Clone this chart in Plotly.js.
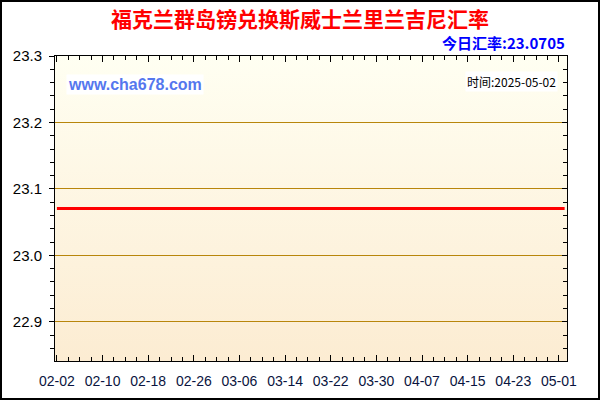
<!DOCTYPE html>
<html>
<head>
<meta charset="utf-8">
<script src="https://cdn.plot.ly/plotly-3.0.1.min.js"></script>
<style>
  body { margin: 0; padding: 0; background: #ffffff; }
  #chart { width: 596px; height: 396px; border: 2px solid #000000; }
</style>
</head>
<body>
<div id="chart"></div>
<script>
var dates = ['2025-02-02', '2025-05-02'];
var rates = [23.0705, 23.0705];
var titleText = '福克兰群岛镑兑换斯威士兰里兰吉尼汇率';
var todayText = '今日汇率:23.0705';
var siteText = 'www.cha678.com';
var timeText = '时间:2025-05-02';

function drawChart() {
    var LOC = document.getElementById('chart');

    var gradient = 'data:image/svg+xml;utf8,' + encodeURIComponent(
        '<svg xmlns="http://www.w3.org/2000/svg" width="10" height="100" preserveAspectRatio="none">' +
        '<defs><linearGradient id="g" x1="0" y1="0" x2="0" y2="1">' +
        '<stop offset="0" stop-color="#fffff2"/><stop offset="1" stop-color="#fcecd2"/>' +
        '</linearGradient></defs><rect width="10" height="100" fill="url(#g)"/></svg>');

    var trace1 = {
        x: dates,
        y: rates,
        type: 'scatter',
        mode: 'lines',
        line: { color: '#ff0000', width: 3 },
        hoverinfo: 'skip'
    };

    var tickFont = { family: 'Liberation Sans, Arial, sans-serif', size: 14, color: '#0a1440' };

    var layout = {
        width: 596,
        height: 396,
        margin: { l: 53, r: 31, t: 54, b: 37 },
        paper_bgcolor: '#ffffff',
        plot_bgcolor: 'rgba(0,0,0,0)',
        showlegend: false,
        title: {
            text: '<b>' + titleText + '</b>',
            font: { family: 'Noto Sans CJK SC', size: 21, color: '#ff0000' },
            x: 0.5, xanchor: 'center', y: 0.955, yanchor: 'middle'
        },
        xaxis: {
            type: 'date',
            range: ['2025-02-01 16:00', '2025-05-02 10:00'],
            tick0: '2025-02-02',
            dtick: 8 * 86400000,
            tickformat: '%m-%d',
            ticks: 'inside',
            ticklen: 6,
            tickcolor: '#000000',
            minor: { dtick: 2 * 86400000, ticks: 'inside', ticklen: 4, tickcolor: '#000000' },
            showline: true,
            linecolor: '#000000',
            linewidth: 1,
            mirror: 'ticks',
            showgrid: false,
            zeroline: false,
            tickfont: tickFont,
            ticklabelstandoff: 7
        },
        yaxis: {
            range: [22.841, 23.3],
            tick0: 22.9,
            dtick: 0.1,
            tickformat: '.1f',
            ticks: 'outside',
            ticklen: 5,
            tickcolor: '#000000',
            minor: { dtick: 0.02, ticks: 'outside', ticklen: 4, tickcolor: '#000000' },
            showline: true,
            linecolor: '#000000',
            linewidth: 1,
            showgrid: true,
            gridcolor: '#b8860b',
            gridwidth: 1,
            zeroline: false,
            tickfont: { family: 'Liberation Sans, Arial, sans-serif', size: 15, color: '#000000' },
            ticklabelstandoff: 4
        },
        yaxis2: {
            overlaying: 'y',
            side: 'right',
            matches: 'y',
            range: [22.841, 23.3],
            tick0: 22.9,
            dtick: 0.1,
            ticks: 'inside',
            ticklen: 5,
            tickcolor: '#000000',
            minor: { dtick: 0.02, ticks: 'inside', ticklen: 4, tickcolor: '#000000' },
            showline: true,
            linecolor: '#000000',
            linewidth: 1,
            showgrid: false,
            zeroline: false,
            showticklabels: false
        },
        images: [{
            source: gradient,
            xref: 'paper', yref: 'paper',
            x: 0, y: 1, sizex: 1, sizey: 1,
            xanchor: 'left', yanchor: 'top',
            sizing: 'stretch',
            layer: 'below'
        }],
        annotations: [
            {
                text: '<b>' + todayText + '</b>',
                xref: 'paper', yref: 'paper',
                x: 1.0, y: 1.0, xanchor: 'right', yanchor: 'bottom', yshift: 1,
                showarrow: false,
                font: { family: 'Noto Sans CJK SC', size: 15, color: '#0000ff' }
            },
            {
                text: '<b>' + siteText + '</b>',
                xref: 'paper', yref: 'paper',
                x: 0.022, y: 0.908, xanchor: 'left', yanchor: 'middle',
                showarrow: false,
                bgcolor: '#ffffff',
                borderpad: 1,
                font: { family: 'Liberation Sans, Arial, sans-serif', size: 16, color: '#5577ee' }
            },
            {
                text: timeText,
                xref: 'paper', yref: 'paper',
                x: 0.982, y: 0.915, xanchor: 'right', yanchor: 'middle',
                showarrow: false,
                bgcolor: '#ffffff',
                borderpad: 1,
                font: { family: 'Noto Sans CJK SC', size: 12, color: '#000000' }
            }
        ]
    };

    var trace2 = { x: [], y: [], yaxis: 'y2', type: 'scatter', hoverinfo: 'skip' };

    Plotly.newPlot(LOC, [trace1, trace2], layout, { staticPlot: true });
}

drawChart();
</script>
</body>
</html>
